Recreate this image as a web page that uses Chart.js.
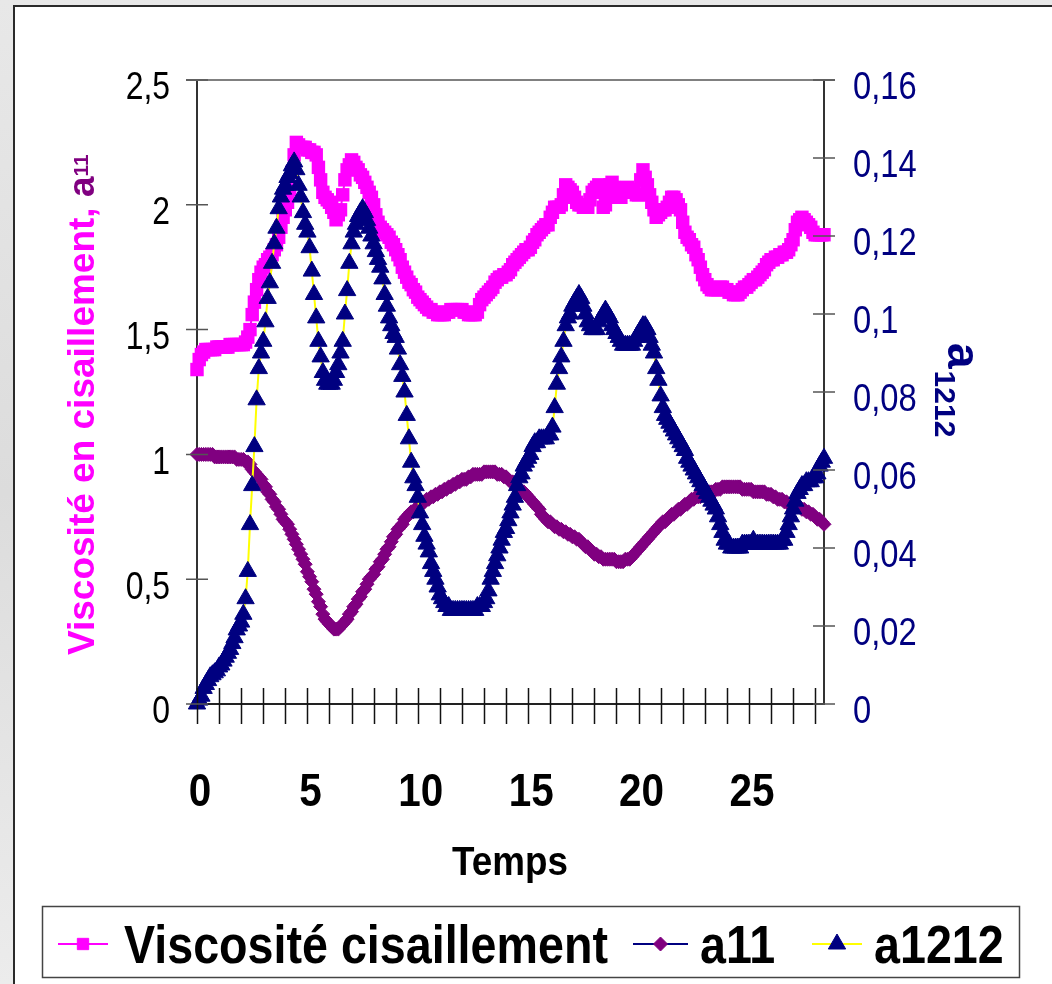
<!DOCTYPE html>
<html>
<head>
<meta charset="utf-8">
<script src="https://cdn.jsdelivr.net/npm/chart.js@4.4.1/dist/chart.umd.min.js"></script>
<style>
  html, body { margin: 0; padding: 0; background: #e4e4e4; }
  canvas { display: block; }
</style>
</head>
<body>
<canvas id="chart" width="1052" height="984"></canvas>
<script>
// Mesures échantillonnées toutes les 0,1 unité de temps (t = 0 … 28,4)
const PAS = 0.1;

const viscosite = [
  1.34,1.38,1.40,1.41,1.42,1.42,1.42,1.42,1.42,1.43,
  1.43,1.43,1.43,1.43,1.43,1.44,1.44,1.44,1.44,1.44,
  1.44,1.44,1.45,1.47,1.50,1.56,1.61,1.66,1.70,1.73,
  1.75,1.76,1.78,1.79,1.80,1.82,1.84,1.87,1.91,1.95,
  1.98,2.01,2.06,2.13,2.20,2.25,2.24,2.23,2.23,2.23,
  2.22,2.22,2.21,2.21,2.20,2.15,2.10,2.05,2.03,2.02,
  2.01,1.99,1.97,1.94,1.96,1.98,2.04,2.10,2.14,2.16,
  2.18,2.17,2.15,2.14,2.12,2.11,2.09,2.07,2.05,2.03,
  2.00,1.96,1.93,1.91,1.90,1.89,1.88,1.87,1.85,1.84,
  1.82,1.80,1.78,1.75,1.73,1.71,1.69,1.68,1.66,1.65,
  1.63,1.62,1.61,1.60,1.59,1.58,1.58,1.57,1.57,1.56,
  1.56,1.56,1.56,1.57,1.57,1.58,1.58,1.58,1.58,1.58,
  1.58,1.57,1.57,1.56,1.56,1.56,1.56,1.57,1.60,1.62,
  1.63,1.64,1.65,1.66,1.67,1.69,1.70,1.71,1.71,1.72,
  1.72,1.73,1.74,1.76,1.77,1.78,1.79,1.80,1.81,1.82,
  1.82,1.83,1.85,1.86,1.88,1.89,1.90,1.91,1.92,1.92,
  1.95,1.97,1.99,1.99,1.99,2.00,2.04,2.08,2.07,2.06,
  2.05,2.03,2.01,2.00,2.00,1.99,1.99,1.99,2.02,2.05,
  2.06,2.07,2.08,2.05,1.99,2.00,2.05,2.08,2.09,2.07,
  2.05,2.03,2.03,2.05,2.06,2.07,2.06,2.06,2.05,2.04,
  2.04,2.10,2.14,2.11,2.08,2.04,2.01,1.98,1.95,1.96,
  1.97,1.98,1.98,1.99,2.01,2.03,2.03,2.02,2.00,1.98,
  1.93,1.89,1.87,1.86,1.84,1.83,1.80,1.78,1.75,1.72,
  1.70,1.68,1.67,1.66,1.66,1.66,1.66,1.67,1.67,1.66,
  1.66,1.65,1.65,1.64,1.64,1.64,1.65,1.66,1.67,1.67,
  1.68,1.69,1.70,1.70,1.71,1.72,1.73,1.74,1.76,1.77,
  1.78,1.78,1.79,1.79,1.80,1.80,1.81,1.81,1.82,1.84,
  1.86,1.90,1.93,1.94,1.95,1.94,1.93,1.92,1.91,1.89,
  1.88,1.88,1.88,1.88,1.88
];

const a11 = [
  1.00,1.00,1.00,1.00,1.00,1.00,1.00,1.00,0.99,0.99,
  0.99,0.99,0.99,0.99,0.99,0.99,0.99,0.99,0.98,0.98,
  0.98,0.98,0.97,0.97,0.96,0.94,0.93,0.92,0.91,0.90,
  0.88,0.87,0.85,0.84,0.82,0.81,0.79,0.78,0.76,0.74,
  0.73,0.72,0.70,0.68,0.66,0.64,0.62,0.60,0.58,0.56,
  0.53,0.51,0.49,0.46,0.44,0.41,0.39,0.36,0.34,0.33,
  0.32,0.31,0.30,0.30,0.30,0.31,0.32,0.33,0.34,0.36,
  0.37,0.39,0.40,0.42,0.43,0.45,0.46,0.48,0.50,0.51,
  0.52,0.54,0.55,0.57,0.58,0.60,0.62,0.63,0.65,0.67,
  0.68,0.70,0.71,0.72,0.74,0.75,0.76,0.77,0.77,0.78,
  0.79,0.80,0.80,0.81,0.82,0.82,0.83,0.83,0.84,0.84,
  0.85,0.85,0.86,0.86,0.87,0.87,0.88,0.88,0.89,0.89,
  0.90,0.90,0.90,0.91,0.91,0.92,0.92,0.92,0.92,0.92,
  0.93,0.93,0.93,0.93,0.93,0.93,0.92,0.92,0.92,0.91,
  0.91,0.90,0.89,0.89,0.88,0.87,0.86,0.85,0.85,0.84,
  0.83,0.82,0.81,0.80,0.79,0.78,0.76,0.75,0.74,0.73,
  0.73,0.72,0.71,0.71,0.70,0.70,0.69,0.69,0.68,0.68,
  0.67,0.67,0.66,0.66,0.65,0.64,0.63,0.63,0.62,0.61,
  0.60,0.60,0.59,0.59,0.58,0.58,0.58,0.58,0.58,0.58,
  0.57,0.57,0.57,0.57,0.58,0.58,0.58,0.59,0.60,0.61,
  0.62,0.63,0.64,0.65,0.66,0.67,0.68,0.69,0.70,0.71,
  0.72,0.73,0.73,0.74,0.75,0.76,0.76,0.77,0.78,0.78,
  0.79,0.80,0.80,0.81,0.82,0.82,0.83,0.83,0.83,0.84,
  0.84,0.84,0.85,0.85,0.85,0.86,0.86,0.86,0.87,0.87,
  0.87,0.87,0.87,0.87,0.87,0.87,0.87,0.86,0.86,0.86,
  0.86,0.86,0.85,0.85,0.85,0.85,0.85,0.85,0.84,0.84,
  0.84,0.83,0.83,0.82,0.82,0.82,0.81,0.81,0.80,0.80,
  0.80,0.79,0.79,0.79,0.78,0.78,0.77,0.77,0.76,0.76,
  0.75,0.74,0.74,0.73,0.72
];

const a1212 = [
  0.000,0.001,0.002,0.004,0.005,0.006,0.007,0.0075,0.008,0.0085,
  0.0095,0.010,0.011,0.012,0.013,0.014,0.0155,0.017,0.019,0.020,
  0.021,0.023,0.027,0.034,0.046,0.056,0.066,0.078,0.086,0.090,
  0.093,0.098,0.104,0.108,0.113,0.118,0.122,0.127,0.130,0.132,
  0.133,0.135,0.136,0.138,0.139,0.137,0.133,0.130,0.126,0.123,
  0.121,0.117,0.111,0.105,0.099,0.093,0.089,0.085,0.083,0.082,
  0.082,0.082,0.083,0.085,0.087,0.090,0.093,0.100,0.106,0.113,
  0.118,0.121,0.123,0.125,0.126,0.127,0.126,0.124,0.122,0.120,
  0.118,0.116,0.114,0.112,0.109,0.105,0.102,0.099,0.097,0.095,
  0.094,0.091,0.087,0.084,0.080,0.074,0.068,0.062,0.058,0.056,
  0.053,0.049,0.046,0.043,0.041,0.039,0.036,0.034,0.032,0.030,
  0.028,0.027,0.026,0.025,0.025,0.024,0.024,0.024,0.024,0.024,
  0.024,0.024,0.024,0.024,0.024,0.024,0.024,0.025,0.025,0.025,
  0.026,0.027,0.029,0.032,0.034,0.036,0.038,0.040,0.042,0.044,
  0.045,0.047,0.049,0.051,0.053,0.056,0.058,0.059,0.061,0.062,
  0.063,0.064,0.066,0.067,0.067,0.068,0.068,0.068,0.068,0.069,
  0.069,0.071,0.076,0.082,0.086,0.089,0.093,0.097,0.099,0.100,
  0.102,0.103,0.104,0.105,0.104,0.102,0.100,0.098,0.097,0.096,
  0.096,0.096,0.098,0.099,0.100,0.101,0.100,0.099,0.097,0.096,
  0.095,0.094,0.093,0.092,0.092,0.092,0.092,0.092,0.093,0.094,
  0.095,0.096,0.097,0.097,0.096,0.094,0.092,0.090,0.086,0.083,
  0.079,0.076,0.074,0.073,0.072,0.071,0.070,0.069,0.068,0.067,
  0.066,0.065,0.063,0.062,0.061,0.060,0.059,0.058,0.057,0.056,
  0.055,0.054,0.053,0.052,0.051,0.050,0.048,0.046,0.044,0.042,
  0.041,0.041,0.040,0.040,0.040,0.040,0.040,0.041,0.041,0.041,
  0.041,0.041,0.042,0.041,0.041,0.041,0.041,0.041,0.041,0.041,
  0.041,0.041,0.041,0.041,0.041,0.042,0.042,0.044,0.046,0.048,
  0.050,0.052,0.054,0.055,0.056,0.056,0.057,0.057,0.057,0.058,
  0.058,0.059,0.061,0.062,0.063
];

// instants de mesure
const temps = viscosite.map((_, i) => Math.round(i * PAS * 10) / 10);

const xLabels = [0, 5, 10, 15, 20, 25];
const yGauche = [0, 0.5, 1, 1.5, 2, 2.5];
const yDroite = [0, 0.02, 0.04, 0.06, 0.08, 0.1, 0.12, 0.14, 0.16];

const ROSE = '#FF00FF', VIOLET = '#800080', MARINE = '#000080', JAUNE = '#FFFF00';
const POLICE = '"Liberation Sans", Arial, sans-serif';

function virgule(v) { return String(v).replace('.', ','); }

function texte(c, s, x, y, font, color, align, sx) {
  c.save();
  c.translate(x, y);
  c.scale(sx, 1);
  c.font = font;
  c.fillStyle = color;
  c.textAlign = align;
  c.textBaseline = 'middle';
  c.fillText(s, 0, 0);
  c.restore();
}

// fond, cadre, graduations, titres et légende
const habillage = {
  id: 'habillage',
  beforeDraw(chart) {
    const c = chart.ctx;
    c.save();
    const g = c.createLinearGradient(0, 0, 0, 984);
    g.addColorStop(0, '#e8e8e8');
    g.addColorStop(0.5, '#dcdcdc');
    g.addColorStop(1, '#ececec');
    c.fillStyle = g;
    c.fillRect(0, 0, 1052, 984);
    c.fillStyle = '#ffffff';
    c.fillRect(13, 5, 1039, 979);
    c.strokeStyle = '#2a2a2a';
    c.lineWidth = 2;
    c.beginPath();
    c.moveTo(14, 984); c.lineTo(14, 6); c.lineTo(1052, 6);
    c.stroke();
    c.restore();
  },
  afterDraw(chart) {
    const c = chart.ctx;
    const { x, y, y1 } = chart.scales;
    const area = chart.chartArea;
    c.save();

    // bord supérieur de la zone de tracé
    c.strokeStyle = '#808080';
    c.lineWidth = 2;
    c.beginPath();
    c.moveTo(area.left - 11, area.top); c.lineTo(area.right + 11, area.top);
    c.stroke();

    // graduations croisées
    c.strokeStyle = '#111';
    c.lineWidth = 1.5;
    c.beginPath();
    for (let t = 0; t <= 28; t++) {
      const px = Math.round(x.getPixelForValue(t)) + 0.5;
      c.moveTo(px, area.bottom - 16); c.lineTo(px, area.bottom + 20);
    }
    c.stroke();
    c.strokeStyle = '#555';
    c.beginPath();
    yGauche.forEach(v => {
      const py = y.getPixelForValue(v);
      c.moveTo(area.left - 11, py); c.lineTo(area.left + 11, py);
    });
    yDroite.forEach(v => {
      const py = y1.getPixelForValue(v);
      c.moveTo(area.right - 11, py); c.lineTo(area.right + 11, py);
    });
    c.stroke();

    // étiquettes des axes
    yGauche.forEach(v => texte(c, virgule(v), 170, y.getPixelForValue(v) + 9,
      '38px ' + POLICE, '#000', 'right', 0.84));
    yDroite.forEach(v => texte(c, virgule(v), 853, y1.getPixelForValue(v) + 9,
      '38px ' + POLICE, MARINE, 'left', 0.86));
    xLabels.forEach(v => texte(c, String(v), x.getPixelForValue(v) + 3, 793,
      'bold 47px ' + POLICE, '#000', 'center', 0.86));
    texte(c, 'Temps', 510, 864, 'bold 40px ' + POLICE, '#000', 'center', 0.92);

    // titre de l'axe gauche
    c.save();
    c.translate(94, 655);
    c.rotate(-Math.PI / 2);
    c.textBaseline = 'alphabetic';
    c.textAlign = 'left';
    c.font = 'bold 37px ' + POLICE;
    const t1 = 'Viscosité en cisaillement, ';
    c.fillStyle = ROSE;
    c.fillText(t1, 0, 0);
    let w = c.measureText(t1).width;
    c.fillStyle = VIOLET;
    c.fillText('a', w, 0);
    w += c.measureText('a').width;
    c.font = 'bold 21px ' + POLICE;
    c.fillText('11', w, -6);
    c.restore();

    // titre de l'axe droit
    c.save();
    c.translate(948, 343);
    c.rotate(Math.PI / 2);
    c.textBaseline = 'alphabetic';
    c.textAlign = 'left';
    c.fillStyle = MARINE;
    c.font = 'bold 46px ' + POLICE;
    c.fillText('a', 0, 0);
    const wa = c.measureText('a').width;
    c.font = 'bold 30px ' + POLICE;
    c.fillText('1212', wa + 2, 13);
    c.restore();

    // légende
    c.strokeStyle = '#444';
    c.lineWidth = 1.5;
    c.strokeRect(42.5, 906.5, 977, 71);
    const ly = 944;
    const ds = chart.data.datasets;
    const items = [
      { x0: 58, x1: 108, tx: 124 },
      { x0: 633, x1: 688, tx: 700 },
      { x0: 812, x1: 862, tx: 874 }
    ];
    items.forEach((it, i) => {
      const d = ds[i];
      c.strokeStyle = d.borderColor;
      c.lineWidth = 2;
      c.beginPath();
      c.moveTo(it.x0, ly); c.lineTo(it.x1, ly);
      c.stroke();
      c.fillStyle = d.pointBackgroundColor;
      c.strokeStyle = d.pointBorderColor;
      c.lineWidth = 1;
      Chart.helpers.drawPoint(c, {
        pointStyle: d.pointStyle, radius: d.legendRadius, rotation: 0, borderWidth: 1
      }, (it.x0 + it.x1) / 2, ly);
      texte(c, d.label, it.tx, ly + 4, 'bold 53px ' + POLICE, '#000', 'left', 0.88);
    });

    c.restore();
  }
};

const ctx = document.getElementById('chart').getContext('2d');
const chart = new Chart(ctx, {
  type: 'line',
  data: {
    labels: temps,
    datasets: [
      {
        label: 'Viscosité cisaillement',
        data: viscosite,
        yAxisID: 'y',
        borderColor: ROSE,
        borderWidth: 2,
        pointStyle: 'rect',
        pointRadius: 9.5,
        pointBackgroundColor: ROSE,
        pointBorderColor: ROSE,
        pointBorderWidth: 0,
        legendRadius: 8,
        order: 3,
        clip: false
      },
      {
        label: 'a11',
        data: a11,
        yAxisID: 'y',
        borderColor: MARINE,
        borderWidth: 2,
        pointStyle: 'rectRot',
        pointRadius: 7,
        pointBackgroundColor: VIOLET,
        pointBorderColor: VIOLET,
        pointBorderWidth: 1,
        legendRadius: 7,
        order: 2,
        clip: false
      },
      {
        label: 'a1212',
        data: a1212,
        yAxisID: 'y1',
        borderColor: JAUNE,
        borderWidth: 2,
        pointStyle: 'triangle',
        pointRadius: 10,
        pointBackgroundColor: MARINE,
        pointBorderColor: MARINE,
        pointBorderWidth: 1,
        legendRadius: 10,
        order: 1,
        clip: false
      }
    ]
  },
  options: {
    responsive: false,
    animation: false,
    devicePixelRatio: 1,
    layout: { padding: { top: 80, left: 0, right: 0, bottom: 0 } },
    elements: { line: { tension: 0 } },
    plugins: {
      legend: { display: false },
      tooltip: { enabled: false }
    },
    scales: {
      x: {
        type: 'linear',
        min: 0,
        max: 28.4,
        grid: { display: false, drawTicks: false },
        border: { display: true, color: '#222', width: 2 },
        ticks: { display: false, stepSize: 1 },
        afterFit: s => { s.height = 280; }
      },
      y: {
        position: 'left',
        min: 0,
        max: 2.5,
        grid: { display: false, drawTicks: false },
        border: { display: true, color: '#333', width: 2 },
        ticks: { display: false, stepSize: 0.5 },
        afterFit: s => { s.width = 197; }
      },
      y1: {
        position: 'right',
        min: 0,
        max: 0.16,
        grid: { display: false, drawTicks: false },
        border: { display: true, color: '#333', width: 2 },
        ticks: { display: false, stepSize: 0.02 },
        afterFit: s => { s.width = 228; }
      }
    }
  },
  plugins: [habillage]
});
</script>
</body>
</html>
